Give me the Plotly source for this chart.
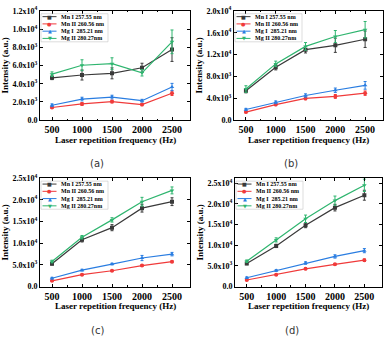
import plotly.graph_objects as go

W, H = 387, 341

freq = [500, 1000, 1500, 2000, 2500]
series_names = ["Mn I 257.55 nm", "Mn II 260.56 nm", "Mg I  285.21 nm", "Mg II 280.27nm"]
series_colors = ["#3a3a3a", "#f03a3a", "#2a7de1", "#2fb56f"]
series_symbols = ["square", "circle", "triangle-up", "triangle-down"]
legend_glyphs = ["■", "●", "▲", "▼"]
panel_labels = ["(a)", "(b)", "(c)", "(d)"]

# Panel (a)
a_mn1 = [4650, 4960, 5140, 5750, 7750]
a_mn2 = [1390, 1780, 2040, 1710, 2960]
a_mg1 = [1640, 2320, 2540, 2140, 3640]
a_mg2 = [5050, 6030, 6200, 5200, 8600]
a_mn1_err = [200, 550, 600, 500, 1300]
a_mn2_err = [100, 150, 150, 120, 250]
a_mg1_err = [150, 200, 200, 150, 400]
a_mg2_err = [250, 600, 650, 350, 1300]

# Panel (b)
b_mn1 = [5400, 9700, 12900, 13700, 14800]
b_mn2 = [1490, 2860, 3990, 4350, 4940]
b_mg1 = [1960, 3270, 4520, 5480, 6370]
b_mg2 = [5700, 10300, 13500, 15300, 16550]
b_mn1_err = [400, 500, 600, 1300, 1500]
b_mn2_err = [150, 200, 250, 350, 400]
b_mg1_err = [200, 250, 300, 400, 700]
b_mg2_err = [600, 500, 700, 1100, 1500]

# Panel (c)
c_mn1 = [5300, 10800, 13600, 18100, 19600]
c_mn2 = [1340, 2760, 3660, 4850, 5750]
c_mg1 = [1940, 3800, 5200, 6600, 7500]
c_mg2 = [5800, 11400, 15400, 19600, 22200]
c_mn1_err = [300, 500, 700, 900, 900]
c_mn2_err = [100, 150, 150, 200, 200]
c_mg1_err = [200, 200, 200, 600, 400]
c_mg2_err = [300, 400, 500, 1000, 800]

# Panel (d)
d_mn1 = [5600, 9850, 14850, 19100, 22100]
d_mn2 = [1600, 2900, 4300, 5400, 6400]
d_mg1 = [2150, 3900, 5700, 7300, 8700]
d_mg2 = [6150, 11300, 16400, 20800, 24500]
d_mn1_err = [300, 400, 600, 800, 1200]
d_mn2_err = [150, 150, 200, 200, 300]
d_mg1_err = [200, 200, 300, 400, 500]
d_mg2_err = [300, 500, 900, 1100, 1500]

panels_vals = [
    [a_mn1, a_mn2, a_mg1, a_mg2],
    [b_mn1, b_mn2, b_mg1, b_mg2],
    [c_mn1, c_mn2, c_mg1, c_mg2],
    [d_mn1, d_mn2, d_mg1, d_mg2],
]
panels_errs = [
    [a_mn1_err, a_mn2_err, a_mg1_err, a_mg2_err],
    [b_mn1_err, b_mn2_err, b_mg1_err, b_mg2_err],
    [c_mn1_err, c_mn2_err, c_mg1_err, c_mg2_err],
    [d_mn1_err, d_mn2_err, d_mg1_err, d_mg2_err],
]

y_ranges = [[0, 12000], [0, 20000], [0, 25000], [0, 26200]]
y_tickvals = [
    [0, 2000, 4000, 6000, 8000, 10000, 12000],
    [0, 4000, 8000, 12000, 16000, 20000],
    [0, 5000, 10000, 15000, 20000, 25000],
    [0, 5000, 10000, 15000, 20000, 25000],
]
y_ticktext = [
    ["0.0", "2.0x10<sup>3</sup>", "4.0x10<sup>3</sup>", "6.0x10<sup>3</sup>", "8.0x10<sup>3</sup>", "1.0x10<sup>4</sup>", "1.2x10<sup>4</sup>"],
    ["0.0", "4.0x10<sup>3</sup>", "8.0x10<sup>3</sup>", "1.2x10<sup>4</sup>", "1.6x10<sup>4</sup>", "2.0x10<sup>4</sup>"],
    ["0.0", "5.0x10<sup>3</sup>", "1.0x10<sup>4</sup>", "1.5x10<sup>4</sup>", "2.0x10<sup>4</sup>", "2.5x10<sup>4</sup>"],
    ["0.0", "5.0x10<sup>3</sup>", "1.0x10<sup>4</sup>", "1.5x10<sup>4</sup>", "2.0x10<sup>4</sup>", "2.5x10<sup>4</sup>"],
]
x_tickvals = [500, 1000, 1500, 2000, 2500]

# pixel boxes (left, right, top, bottom)
boxes = [(40, 190, 5, 118), (234, 383, 5, 118), (40, 190, 178, 290), (235, 382, 178, 290)]


def px(x):
    return x / W


def py(y):
    return 1 - y / H


SERIF = "Liberation Serif"
fig = go.Figure()
annotations = []
shapes = []

for p in range(4):
    xa = "x" if p == 0 else f"x{p+1}"
    ya = "y" if p == 0 else f"y{p+1}"
    for s in range(4):
        fig.add_trace(go.Scatter(
            x=freq, y=panels_vals[p][s],
            error_y=dict(type="data", array=panels_errs[p][s], visible=True,
                         color=series_colors[s], thickness=1, width=1.5),
            mode="lines+markers",
            line=dict(color=series_colors[s], width=1.2),
            marker=dict(symbol=series_symbols[s], size=4, color=series_colors[s]),
            name=series_names[s], showlegend=False,
            xaxis=xa, yaxis=ya,
        ))
    L, R, T, B = boxes[p]
    ax = dict(
        domain=[px(L), px(R)], range=[300, 2800], tickvals=x_tickvals,
        ticks="inside", ticklen=3, tickwidth=1, tickcolor="black",
        showline=True, linecolor="black", linewidth=1, mirror="ticks",
        showgrid=False, zeroline=False,
        minor=dict(ticks="inside", ticklen=1.5, tickcolor="black", tickvals=[750, 1250, 1750, 2250]),
        tickfont=dict(family=SERIF, size=10, color="black", weight="bold"),
        anchor=ya,
    )
    ay = dict(
        domain=[py(B), py(T)], range=y_ranges[p], tickvals=y_tickvals[p], ticktext=y_ticktext[p],
        ticks="inside", ticklen=3, tickwidth=1, tickcolor="black",
        showline=True, linecolor="black", linewidth=1, mirror="ticks",
        showgrid=False, zeroline=False,
        tickfont=dict(family=SERIF, size=8, color="black", weight="bold"),
        anchor=xa,
    )
    fig.update_layout(**{("xaxis" if p == 0 else f"xaxis{p+1}"): ax,
                         ("yaxis" if p == 0 else f"yaxis{p+1}"): ay})

    cx = (L + R) / 2
    # x title
    annotations.append(dict(x=px(cx), y=py(B + 20), xref="paper", yref="paper",
                            text="Laser repetition frequency (Hz)", showarrow=False,
                            font=dict(family=SERIF, size=9, color="black", weight="bold"),
                            xanchor="center", yanchor="middle"))
    # y title
    annotations.append(dict(x=px(L - 35), y=py((T + B) / 2), xref="paper", yref="paper",
                            text="Intensity (a.u.)", showarrow=False, textangle=-90,
                            font=dict(family=SERIF, size=9, color="black", weight="bold"),
                            xanchor="center", yanchor="middle"))
    # panel label
    annotations.append(dict(x=px(L + 57), y=py(B + 45), xref="paper", yref="paper",
                            text=panel_labels[p], showarrow=False,
                            font=dict(family="DejaVu Sans", size=10, color="#333333"),
                            xanchor="center", yanchor="middle"))
    # legend (manual)
    lx0 = L + 2.5
    row0 = T + 6
    shapes.append(dict(type="rect", xref="paper", yref="paper",
                       x0=px(L + 1), x1=px(L + 68), y0=py(row0 + 26), y1=py(row0 - 3),
                       line=dict(color="#bbbbbb", width=0.5), fillcolor="rgba(255,255,255,0)"))
    for s in range(4):
        ry = row0 + s * 7.5
        shapes.append(dict(type="line", xref="paper", yref="paper",
                           x0=px(lx0), x1=px(lx0 + 14), y0=py(ry), y1=py(ry),
                           line=dict(color=series_colors[s], width=1)))
        annotations.append(dict(x=px(lx0 + 7), y=py(ry), xref="paper", yref="paper",
                                text=legend_glyphs[s], showarrow=False,
                                font=dict(family="DejaVu Sans", size=5, color=series_colors[s]),
                                xanchor="center", yanchor="middle"))
        annotations.append(dict(x=px(lx0 + 16), y=py(ry), xref="paper", yref="paper",
                                text=series_names[s].replace("  ", "&nbsp; "), showarrow=False,
                                font=dict(family=SERIF, size=6, color="black", weight="bold"),
                                xanchor="left", yanchor="middle"))

fig.update_layout(
    width=W, height=H, margin=dict(l=0, r=0, t=0, b=0),
    paper_bgcolor="white", plot_bgcolor="white",
    annotations=annotations, shapes=shapes, showlegend=False,
)

fig.write_html("out.html")
